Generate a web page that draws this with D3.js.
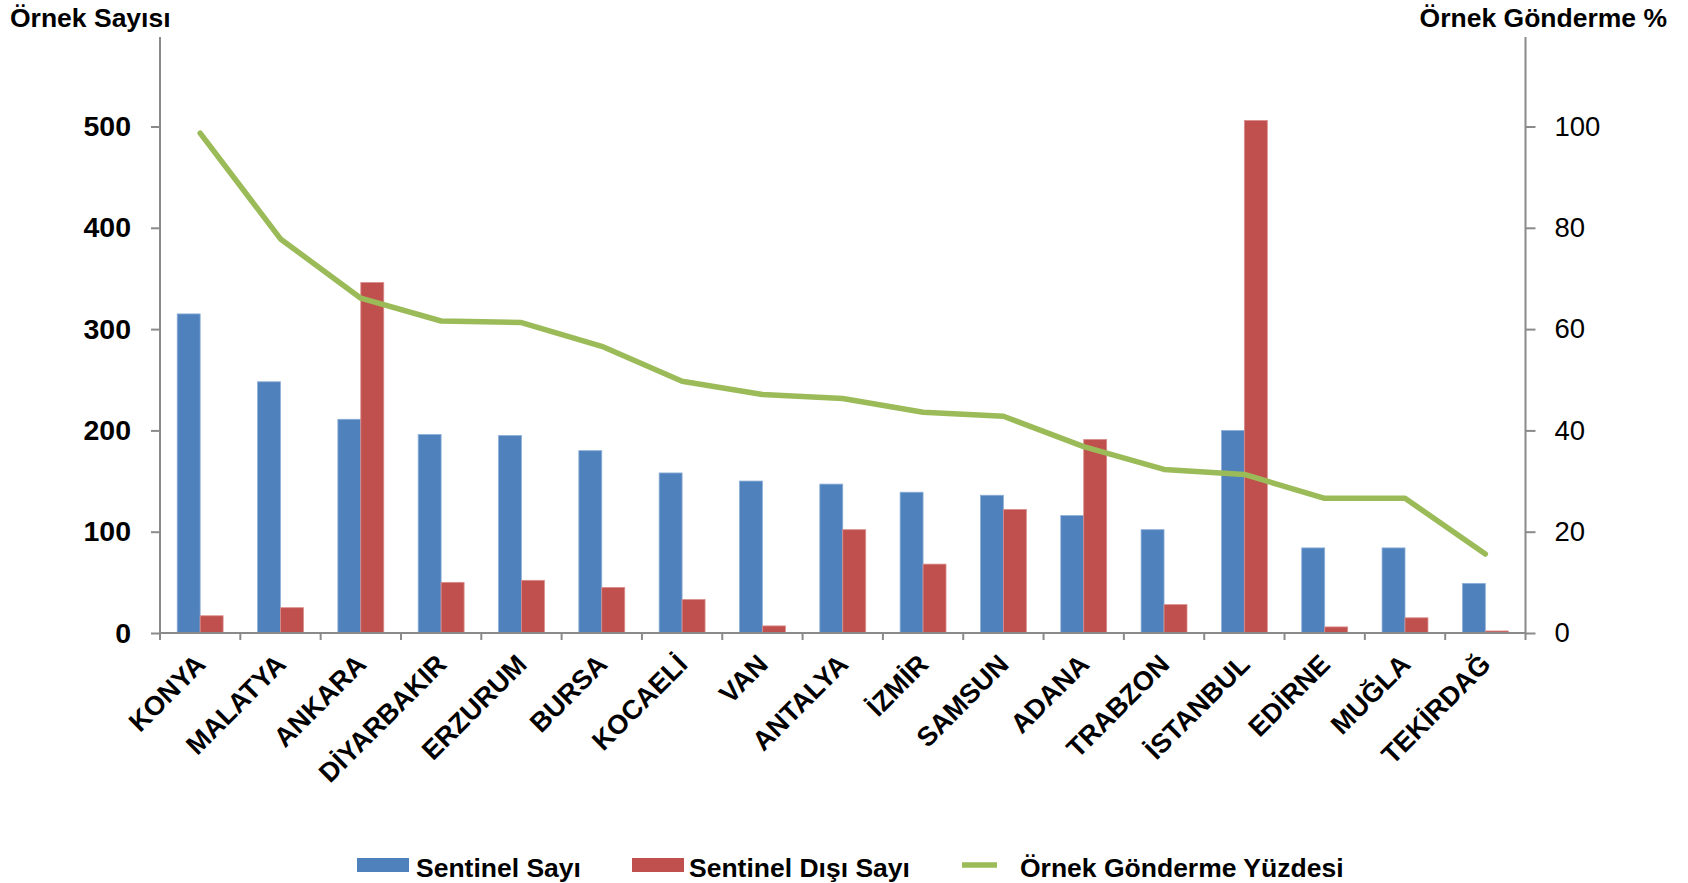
<!DOCTYPE html>
<html lang="tr">
<head>
<meta charset="utf-8">
<script src="https://cdn.jsdelivr.net/npm/d3@7/dist/d3.min.js"></script>
<style>
  html, body { margin: 0; padding: 0; background: #ffffff; }
  svg { display: block; font-family: "Liberation Sans", Arial, Helvetica, sans-serif; }
</style>
</head>
<body>
<svg id="chart" width="1688" height="883"></svg>
<script>
// Provinces along the category axis
const cities = ["KONYA", "MALATYA", "ANKARA", "DİYARBAKIR", "ERZURUM", "BURSA", "KOCAELİ", "VAN",
  "ANTALYA", "İZMİR", "SAMSUN", "ADANA", "TRABZON", "İSTANBUL", "EDİRNE", "MUĞLA", "TEKİRDAĞ"];

// Sample counts (left axis)
const sentinelSayi = [315, 248, 211, 196, 195, 180, 158, 150, 147, 139, 136, 116, 102, 200, 84, 84, 49];
const sentinelDisiSayi = [17, 25, 346, 50, 52, 45, 33, 7, 102, 68, 122, 191, 28, 506, 6, 15, 2];

// Sample submission percentage (right axis)
const gondermeYuzdesi = [98.7, 77.8, 66.1, 61.6, 61.3, 56.6, 49.7, 47.1, 46.3, 43.6, 42.8, 36.8, 32.3, 31.3, 26.6, 26.6, 15.6];

// Axis ticks and labels
const leftTicks = [0, 100, 200, 300, 400, 500];
const rightTicks = [0, 20, 40, 60, 80, 100];
const seriesNames = ["Sentinel Sayı", "Sentinel Dışı Sayı", "Örnek Gönderme Yüzdesi"];
const leftTitle = "Örnek Sayısı";
const rightTitle = "Örnek Gönderme %";

const colors = { blue: "#4F81BD", red: "#C0504D", green: "#9BBB59", axis: "#8a8a8a", text: "#000000" };

const svg = d3.select("#chart");

const plot = { left: 160, right: 1525.5, top: 37, bottom: 633 };

const x = d3.scaleBand().domain(cities).range([plot.left, plot.right]).paddingInner(0).paddingOuter(0);
const xSub = d3.scaleBand().domain(["s", "d"]).range([0, x.bandwidth()]).paddingInner(0).paddingOuter(0.75);
const yLeft = d3.scaleLinear().domain([0, 500]).range([plot.bottom, 126.5]);
const yRight = d3.scaleLinear().domain([0, 100]).range([plot.bottom, 126.5]);

// Bars
const rows = cities.map((c, i) => ({ city: c, s: sentinelSayi[i], d: sentinelDisiSayi[i] }));
const groups = svg.append("g").selectAll("g").data(rows).join("g")
  .attr("transform", d => `translate(${x(d.city)},0)`);

groups.append("rect")
  .attr("x", xSub("s")).attr("width", xSub.bandwidth())
  .attr("y", d => yLeft(d.s)).attr("height", d => yLeft(0) - yLeft(d.s))
  .attr("fill", colors.blue).attr("stroke", "#8fb0d8").attr("stroke-width", 0.8);

groups.append("rect")
  .attr("x", xSub("d")).attr("width", xSub.bandwidth())
  .attr("y", d => yLeft(d.d)).attr("height", d => yLeft(0) - yLeft(d.d))
  .attr("fill", colors.red).attr("stroke", "#d98d8b").attr("stroke-width", 0.8);

// Left axis
const leftAxis = svg.append("g").attr("transform", `translate(${plot.left},0)`)
  .call(d3.axisLeft(yLeft).tickValues(leftTicks).tickSize(9).tickPadding(20).tickFormat(d3.format("d")));
leftAxis.select(".domain").remove();
leftAxis.selectAll(".tick line").attr("stroke", colors.axis).attr("stroke-width", 2);
leftAxis.selectAll(".tick text").attr("font-size", 28.5).attr("font-weight", "bold")
  .attr("fill", colors.text).attr("font-family", "'Liberation Sans', Arial, sans-serif");
svg.append("line").attr("x1", plot.left).attr("x2", plot.left)
  .attr("y1", plot.top).attr("y2", plot.bottom + 1)
  .attr("stroke", colors.axis).attr("stroke-width", 2);

// Right axis
const rightAxis = svg.append("g").attr("transform", `translate(${plot.right},0)`)
  .call(d3.axisRight(yRight).tickValues(rightTicks).tickSize(10).tickPadding(19).tickFormat(d3.format("d")));
rightAxis.select(".domain").remove();
rightAxis.selectAll(".tick line").attr("stroke", colors.axis).attr("stroke-width", 2);
rightAxis.selectAll(".tick text").attr("font-size", 27.5).attr("font-weight", "normal")
  .attr("fill", colors.text).attr("font-family", "'Liberation Sans', Arial, sans-serif");
svg.append("line").attr("x1", plot.right).attr("x2", plot.right)
  .attr("y1", plot.top).attr("y2", plot.bottom + 1)
  .attr("stroke", colors.axis).attr("stroke-width", 2);

// Category axis: line, boundary ticks and rotated labels
svg.append("line").attr("x1", plot.left).attr("x2", plot.right)
  .attr("y1", plot.bottom).attr("y2", plot.bottom)
  .attr("stroke", colors.axis).attr("stroke-width", 2);
const boundaries = cities.map(c => x(c)).concat([plot.right]);
svg.append("g").selectAll("line").data(boundaries).join("line")
  .attr("x1", d => d).attr("x2", d => d)
  .attr("y1", plot.bottom).attr("y2", plot.bottom + 7)
  .attr("stroke", colors.axis).attr("stroke-width", 2);

svg.append("g").selectAll("text").data(cities).join("text")
  .attr("transform", d => `translate(${x(d) + x.bandwidth() / 2 + 7},${plot.bottom + 33}) rotate(-45)`)
  .attr("text-anchor", "end")
  .attr("font-size", 27).attr("font-weight", "bold").attr("fill", colors.text)
  .text(d => d);

// Percentage line
const line = d3.line()
  .x((d, i) => x(cities[i]) + x.bandwidth() / 2)
  .y(d => yRight(d));
svg.append("path").datum(gondermeYuzdesi)
  .attr("d", line)
  .attr("fill", "none").attr("stroke", colors.green).attr("stroke-width", 5.5)
  .attr("stroke-linejoin", "round").attr("stroke-linecap", "round");

// Axis titles
svg.append("text").attr("x", 10).attr("y", 27)
  .attr("font-size", 26.5).attr("font-weight", "bold").attr("fill", colors.text)
  .text(leftTitle);
svg.append("text").attr("x", 1667).attr("y", 27).attr("text-anchor", "end")
  .attr("font-size", 26.5).attr("font-weight", "bold").attr("fill", colors.text)
  .text(rightTitle);

// Legend
const legend = svg.append("g");
legend.append("rect").attr("x", 357).attr("y", 858).attr("width", 52).attr("height", 14).attr("fill", colors.blue);
legend.append("text").attr("x", 416).attr("y", 877).attr("font-size", 26.5).attr("font-weight", "bold").text(seriesNames[0]);
legend.append("rect").attr("x", 632).attr("y", 858).attr("width", 52).attr("height", 14).attr("fill", colors.red);
legend.append("text").attr("x", 689).attr("y", 877).attr("font-size", 26.5).attr("font-weight", "bold").text(seriesNames[1]);
legend.append("line").attr("x1", 962).attr("x2", 997).attr("y1", 865).attr("y2", 865)
  .attr("stroke", colors.green).attr("stroke-width", 5.5);
legend.append("text").attr("x", 1020).attr("y", 877).attr("font-size", 26.5).attr("font-weight", "bold").text(seriesNames[2]);
</script>
</body>
</html>
